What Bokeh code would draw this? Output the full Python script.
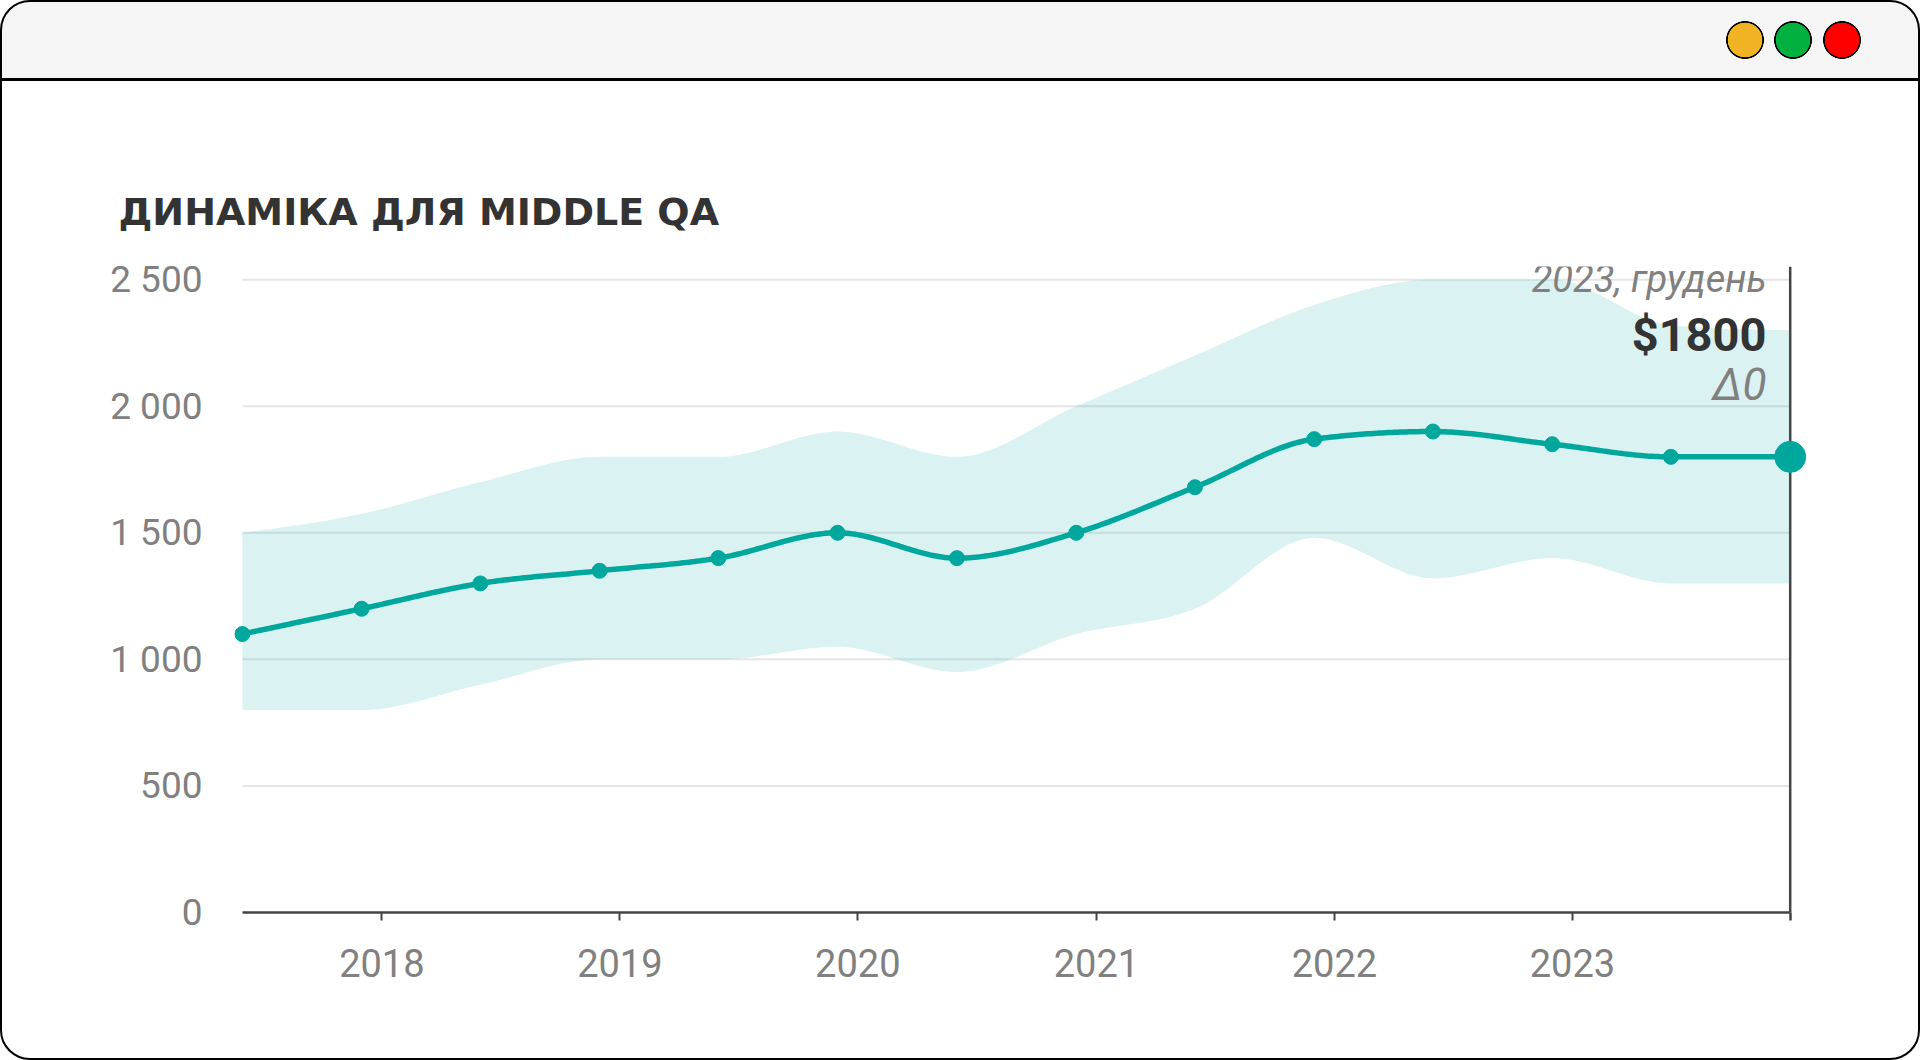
import numpy as np
import pandas as pd
from bokeh.plotting import figure
from bokeh.models import Range1d, FixedTicker, DatetimeTickFormatter, Span, Label
from bokeh.embed import file_html
from bokeh.resources import INLINE

# ---------------- data ----------------
title_text = "ДИНАМІКА ДЛЯ MIDDLE QA"
dates = ["2017-06-01", "2017-12-01", "2018-06-01", "2018-12-01", "2019-06-01",
         "2019-12-01", "2020-06-01", "2020-12-01", "2021-06-01", "2021-12-01",
         "2022-06-01", "2022-12-01", "2023-06-01", "2023-12-01"]
median = [1100, 1200, 1300, 1350, 1400, 1500, 1400, 1500, 1680, 1870, 1900, 1850, 1800, 1800]
upper = [1500, 1575, 1700, 1800, 1800, 1900, 1800, 2000, 2200, 2400, 2500, 2500, 2320, 2300]
lower = [800, 800, 900, 1000, 1000, 1050, 950, 1100, 1200, 1480, 1320, 1400, 1300, 1300]
x_tick_years = [2018, 2019, 2020, 2021, 2022, 2023]
y_ticks = [0, 500, 1000, 1500, 2000, 2500]
y_tick_labels = ["0", "500", "1 000", "1 500", "2 000", "2 500"]
last_period_label = "2023, грудень"

# ---------------- helpers ----------------
DAY = 86400000.0

def to_ms(s):
    return pd.Timestamp(s).value / 1e6

def monotone_curve(xs, ys, n=40):
    """Monotone cubic (as d3 curveMonotoneX), sampled for drawing."""
    xs = np.asarray(xs, float)
    ys = np.asarray(ys, float)
    h = np.diff(xs)
    s = np.diff(ys) / h
    m = len(xs)
    t = np.zeros(m)
    for i in range(1, m - 1):
        h0, h1 = h[i - 1], h[i]
        s0, s1 = s[i - 1], s[i]
        p = (s0 * h1 + s1 * h0) / (h0 + h1)
        t[i] = (np.sign(s0) + np.sign(s1)) * min(abs(s0), abs(s1), 0.5 * abs(p))
    t[0] = (3 * s[0] - t[1]) / 2
    t[-1] = (3 * s[-1] - t[-2]) / 2
    ox, oy = [], []
    for i in range(m - 1):
        u = np.linspace(0, 1, n, endpoint=(i == m - 2))
        h00 = 2 * u**3 - 3 * u**2 + 1
        h10 = u**3 - 2 * u**2 + u
        h01 = -2 * u**3 + 3 * u**2
        h11 = u**3 - u**2
        yy = h00 * ys[i] + h10 * h[i] * t[i] + h01 * ys[i + 1] + h11 * h[i] * t[i + 1]
        ox.extend(xs[i] + u * h[i])
        oy.extend(yy)
    return np.array(ox), np.array(oy)

xms = [to_ms(d) for d in dates]
x_first, x_last = xms[0], xms[-1]

cx, med_c = monotone_curve(xms, median)
_, up_c = monotone_curve(xms, upper)
_, lo_c = monotone_curve(xms, lower)

TEAL = "#00a79d"
GRAY_TXT = "#808080"
DARK = "#333333"
AXIS = "#444444"
FONT = "Roboto"

# ---------------- layout ----------------
BW = 2                      # css border width of the window frame
W, H = 1920 - 2 * BW, 1060 - 2 * BW
# frame edges in page px
FL, FT, FR, FB = 234, 266, 1802, 908

p = figure(width=W, height=H, x_axis_type="datetime",
           x_range=Range1d(x_first - 12 * DAY, x_last + 25 * DAY),
           y_range=Range1d(0, 2552),
           output_backend="svg", toolbar_location=None,
           min_border_left=FL - BW, min_border_right=W - (FR - BW),
           min_border_top=FT - BW, min_border_bottom=H - (FB - BW))
p.background_fill_color = None
p.border_fill_color = None
p.outline_line_color = None
p.xgrid.visible = False
p.ygrid.visible = False

# window chrome (css): header bar, divider, three buttons, rounded border
buttons = [(1745, 40, "#f0b323"), (1793, 40, "#00b140"), (1842, 40, "#ff0000")]
layers = [f"radial-gradient(circle 19px at {bx - BW}px {by - BW}px, {col} 17px, #000 17.6px, "
          f"#000 18.6px, rgba(0,0,0,0) 19.2px)" for bx, by, col in buttons]
layers.append("linear-gradient(to bottom, #f5f5f5 0px, #f5f5f5 76px, #000 76px, #000 79px, "
              "#ffffff 79px, #ffffff 100%)")
p.styles = {"box-sizing": "content-box", "border": f"{BW}px solid #000",
            "border-radius": "30px", "background": ", ".join(layers), "overflow": "hidden"}

# title
p.title.text = title_text
p.title.align = "left"
p.title.offset = 118 - FL
p.title.standoff = 65
p.title.text_font = "DejaVu Sans"
p.title.text_font_style = "bold"
p.title.text_font_size = "38px"
p.title.text_color = DARK

# grid lines (stop at last period)
gy = y_ticks[1:]
p.segment(x0=[x_first] * len(gy), y0=gy, x1=[x_last] * len(gy), y1=gy,
          line_color="#e6e6e6", line_width=2, level="underlay")

# vertical marker at last period
p.add_layout(Span(location=x_last, dimension="height", line_color=AXIS,
                  line_width=2.5, level="underlay"))

# band, median line, points
p.varea(x=cx, y1=lo_c, y2=up_c, fill_color=TEAL, fill_alpha=0.145)
p.line(cx, med_c, line_color=TEAL, line_width=5.5)
p.scatter(x=xms[:-1], y=median[:-1], size=15, color=TEAL)
p.scatter(x=xms[-1:], y=median[-1:], size=31, color=TEAL)

# axes
xa = p.xaxis[0]
xa.ticker = FixedTicker(ticks=[to_ms(f"{y}-01-01") for y in x_tick_years],
                        minor_ticks=[x_last])
xa.formatter = DatetimeTickFormatter(years="%Y", months="%Y", days="%Y", hours="%Y",
                                     minutes="%Y", seconds="%Y", milliseconds="%Y")
xa.bounds = (x_first, x_last)
xa.axis_line_color = AXIS
xa.axis_line_width = 2.5
xa.major_tick_line_color = AXIS
xa.major_tick_line_width = 2
xa.major_tick_out = 8
xa.major_tick_in = 0
xa.minor_tick_line_color = AXIS
xa.minor_tick_line_width = 2.5
xa.minor_tick_out = 8
xa.minor_tick_in = 0
xa.major_label_text_font = FONT
xa.major_label_text_font_size = "38px"
xa.major_label_text_color = GRAY_TXT
xa.major_label_standoff = 28

ya = p.yaxis[0]
ya.ticker = FixedTicker(ticks=y_ticks)
ya.major_label_overrides = {v: s for v, s in zip(y_ticks, y_tick_labels)}
ya.axis_line_color = None
ya.major_tick_line_color = None
ya.minor_tick_line_color = None
ya.major_tick_out = 0
ya.major_tick_in = 0
ya.major_label_standoff = 32
ya.major_label_text_font = FONT
ya.major_label_text_font_size = "37px"
ya.major_label_text_color = GRAY_TXT

# last-period annotation (frame-relative screen coords, from page px)
def sx(px):
    return px - FL

def sy(py):
    return FB - py

value_text = f"${median[-1]}"
delta_text = f"Δ{median[-1] - median[-2]}"
for txt, base, style, size, col in [
        (last_period_label, 274, "italic", "38px", GRAY_TXT),
        (value_text, 330, "bold", "47px", DARK),
        (delta_text, 380, "italic", "44px", GRAY_TXT)]:
    p.add_layout(Label(x=sx(1766), y=sy(base), x_units="screen", y_units="screen",
                       text=txt, text_font=FONT, text_font_style=style,
                       text_font_size=size, text_color=col,
                       text_align="right", text_baseline="alphabetic"))

open("out.html", "w").write(file_html(p, INLINE))
